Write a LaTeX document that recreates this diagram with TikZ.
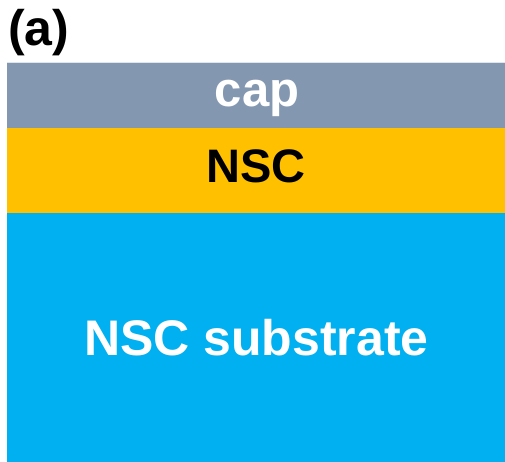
\documentclass[tikz,border=0pt]{standalone}
\usepackage{fontspec}
\setmainfont{Liberation Sans}
\usepackage{tikz}

\definecolor{capgray}{HTML}{8497B0}
\definecolor{nscyellow}{HTML}{FFC000}
\definecolor{subblue}{HTML}{00B0F0}

\tikzset{
  layer/.style={draw=none},
  layername/.style={anchor=base, inner sep=0pt, font=\bfseries\fontsize{47}{56}\selectfont}
}

\begin{document}
\begin{tikzpicture}[x=1pt, y=-1pt]
   \useasboundingbox (0,0) rectangle (505,462);

   % stack of layers, top to bottom
   \fill[layer, fill=capgray] (7,62) rectangle (505,128);
   \fill[layer, fill=nscyellow] (7,128) rectangle (505,213);
   \fill[layer, fill=subblue] (7,213) rectangle (505,462);
   \draw[white!75!capgray, line width=0.8pt] (7,62.4) -- (505,62.4);

   \node[layername, white, font=\bfseries\fontsize{49}{58}\selectfont] (cap) at (257,107) {cap};
   \node[layername, black] (nsc) at (256,183) {NSC};
   \node[layername, white, font=\bfseries\fontsize{50}{60}\selectfont] (sub) at (256.5,355) {NSC substrate};

   % panel label
   \node[layername, anchor=base west, font=\bfseries\fontsize{50}{60}\selectfont] (lbl) at (8,46) {(a)};
\end{tikzpicture}
\end{document}
